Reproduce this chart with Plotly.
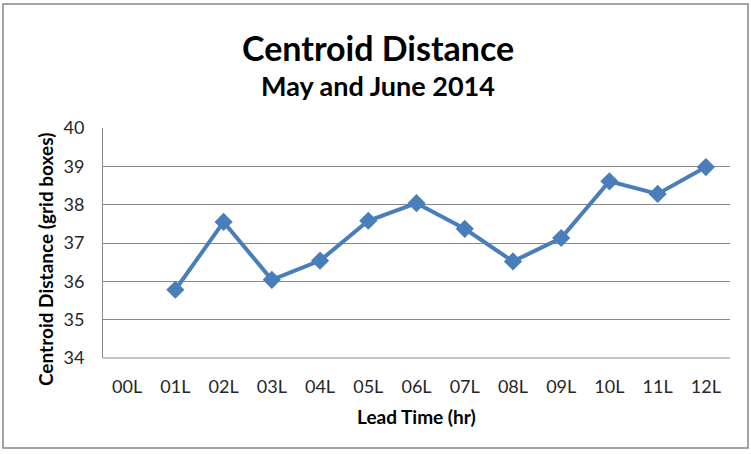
import plotly.graph_objects as go

lead_times = ["00L", "01L", "02L", "03L", "04L", "05L", "06L", "07L", "08L", "09L", "10L", "11L", "12L"]
centroid_distance = [None, 35.78, 37.55, 36.04, 36.54, 37.58, 38.04, 37.37, 36.52, 37.13, 38.61, 38.28, 38.98]
y_ticks = [34, 35, 36, 37, 38, 39, 40]

FONT = "Lato"
W, H = 751, 454
ml, mr, mt, mb = 103, 21, 128, 96
pw, ph = W - ml - mr, H - mt - mb

def px(x):
    return (x - ml) / pw

def py(y):
    return (H - mb - y) / ph

fig = go.Figure()
fig.add_trace(go.Scatter(
    x=lead_times, y=centroid_distance, mode="lines+markers",
    line=dict(color="#4A7EBB", width=4),
    marker=dict(symbol="diamond", size=14, color="#4A7EBB"),
    connectgaps=False, showlegend=False, cliponaxis=False,
))

fig.update_layout(
    width=W, height=H,
    margin=dict(l=ml, r=mr, t=mt, b=mb),
    paper_bgcolor="white", plot_bgcolor="white",
    font=dict(family=FONT, color="#000000"),
    xaxis=dict(
        type="category", categoryorder="array", categoryarray=lead_times,
        range=[-0.5, len(lead_times) - 0.5],
        showgrid=False, showline=False, zeroline=False,
        ticks="outside", ticklen=12, tickcolor="rgba(0,0,0,0)",
        tickfont=dict(size=18, color="#262626"),
    ),
    yaxis=dict(
        range=[34, 40], tickvals=y_ticks, ticktext=[str(v) for v in y_ticks],
        showgrid=True, gridcolor="#898989", gridwidth=1,
        showline=True, linecolor="#898989", linewidth=1, zeroline=False,
        ticks="outside", ticklen=14, tickcolor="rgba(0,0,0,0)",
        tickfont=dict(size=18, color="#262626"),
    ),
    annotations=[
        dict(text="<b>Centroid Distance</b>", x=px(378), y=py(47), xref="paper", yref="paper",
             showarrow=False, font=dict(size=34, family=FONT), xanchor="center", yanchor="middle"),
        dict(text="<b>May and June 2014</b>", x=px(378), y=py(86), xref="paper", yref="paper",
             showarrow=False, font=dict(size=27, family=FONT), xanchor="center", yanchor="middle"),
        dict(text="<b>Lead Time (hr)</b>", x=px(416), y=py(416), xref="paper", yref="paper",
             showarrow=False, font=dict(size=19, family=FONT), xanchor="center", yanchor="middle"),
        dict(text="<b>Centroid Distance (grid boxes)</b>", x=px(45), y=py(260), xref="paper", yref="paper",
             showarrow=False, textangle=-90, font=dict(size=19, family=FONT),
             xanchor="center", yanchor="middle"),
    ],
    shapes=[
        dict(type="rect", xref="paper", yref="paper",
             x0=px(3), x1=px(748), y0=py(448), y1=py(4),
             line=dict(color="#868686", width=1.5), fillcolor="rgba(0,0,0,0)", layer="below"),
        dict(type="line", xref="paper", yref="paper", x0=0, x1=1, y0=0, y1=0,
             line=dict(color="#898989", width=1)),
    ],
)

fig.write_html("out.html", config={"displayModeBar": False},
               post_script="document.body.style.margin='0';document.body.style.overflow='hidden';")
